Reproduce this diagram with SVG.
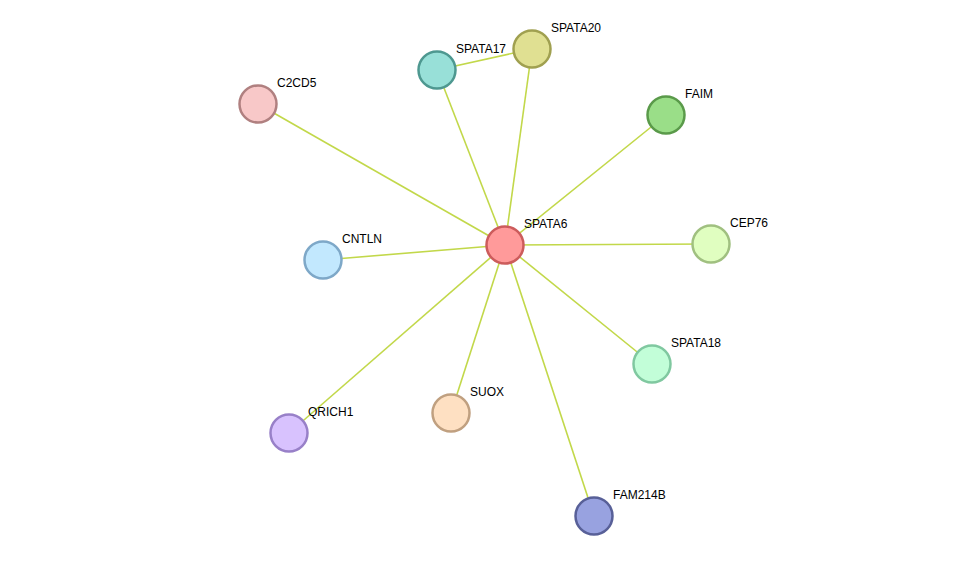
<svg xmlns="http://www.w3.org/2000/svg" width="975" height="562" viewBox="0 0 975 562">
<style>
.e{stroke:#c2d84a;stroke-width:1.6;fill:none}
.n{stroke-width:2.5}
text{font-family:"Liberation Sans",Arial,sans-serif;font-size:12px;fill:#000}
</style>
<rect width="975" height="562" fill="#fff"/>
<g id="edges">
<line class="e" x1="505" y1="245" x2="532" y2="49"/>
<line class="e" x1="505" y1="245" x2="437" y2="70"/>
<line class="e" x1="437" y1="70" x2="532" y2="49"/>
<line class="e" x1="505" y1="245" x2="258" y2="104"/>
<line class="e" x1="505" y1="245" x2="666" y2="115"/>
<line class="e" x1="505" y1="245" x2="711" y2="244"/>
<line class="e" x1="505" y1="245" x2="323" y2="260"/>
<line class="e" x1="505" y1="245" x2="652" y2="364"/>
<line class="e" x1="505" y1="245" x2="451" y2="413"/>
<line class="e" x1="505" y1="245" x2="289" y2="433"/>
<line class="e" x1="505" y1="245" x2="594" y2="516"/>
</g>
<g id="SPATA6"><circle class="n" cx="505" cy="245" r="18.5" fill="#ff9a9a" stroke="#cc5c5c"/><text x="524" y="228">SPATA6</text></g>
<g id="SPATA20"><circle class="n" cx="532" cy="49" r="18.5" fill="#e0e092" stroke="#a0a050"/><text x="551" y="32">SPATA20</text></g>
<g id="SPATA17"><circle class="n" cx="437" cy="70" r="18.5" fill="#98e0d8" stroke="#4e9890"/><text x="456" y="53">SPATA17</text></g>
<g id="C2CD5"><circle class="n" cx="258" cy="104" r="18.5" fill="#f8c8c8" stroke="#b08080"/><text x="277" y="87">C2CD5</text></g>
<g id="FAIM"><circle class="n" cx="666" cy="115" r="18.5" fill="#9ade88" stroke="#5a9a4a"/><text x="685" y="98">FAIM</text></g>
<g id="CEP76"><circle class="n" cx="711" cy="244" r="18.5" fill="#e0fec0" stroke="#a0c080"/><text x="730" y="227">CEP76</text></g>
<g id="CNTLN"><circle class="n" cx="323" cy="260" r="18.5" fill="#c2e8fe" stroke="#7ea8c8"/><text x="342" y="243">CNTLN</text></g>
<g id="SPATA18"><circle class="n" cx="652" cy="364" r="18.5" fill="#c2fed8" stroke="#80c8a0"/><text x="671" y="347">SPATA18</text></g>
<g id="SUOX"><circle class="n" cx="451" cy="413" r="18.5" fill="#fee0c2" stroke="#c0a080"/><text x="470" y="396">SUOX</text></g>
<g id="QRICH1"><circle class="n" cx="289" cy="433" r="18.5" fill="#d8c2fe" stroke="#9880c8"/><text x="308" y="416">QRICH1</text></g>
<g id="FAM214B"><circle class="n" cx="594" cy="516" r="18.5" fill="#98a2e0" stroke="#586098"/><text x="613" y="499">FAM214B</text></g>
</svg>
